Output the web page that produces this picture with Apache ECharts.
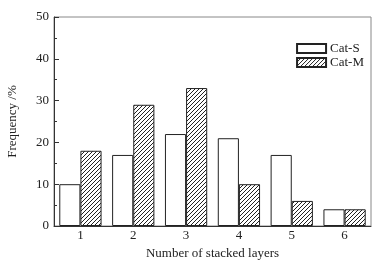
<!DOCTYPE html>
<html>
<head>
<meta charset="utf-8">
<script src="https://cdn.jsdelivr.net/npm/echarts@6/dist/echarts.min.js"></script>
<style>
  html, body { margin: 0; padding: 0; background: #fff; }
  #main { width: 383px; height: 265px; }
</style>
</head>
<body>
<div id="main"></div>
<script>
const categories = ['1', '2', '3', '4', '5', '6'];
const catS = [10, 17, 22, 21, 17, 4];
const catM = [18, 29, 33, 10, 6, 4];

// hatch pattern "////" for Cat-M
function hatch() {
    const c = document.createElement('canvas');
    c.width = 4; c.height = 4;
    const ctx = c.getContext('2d');
    ctx.fillStyle = '#fff';
    ctx.fillRect(0, 0, 4, 4);
    ctx.strokeStyle = '#222';
    ctx.lineWidth = 1;
    ctx.beginPath();
    ctx.moveTo(-1, 5); ctx.lineTo(5, -1);
    ctx.moveTo(-1, 1); ctx.lineTo(1, -1);
    ctx.moveTo(3, 5); ctx.lineTo(5, 3);
    ctx.stroke();
    return c;
}

const font = 'Liberation Serif, Times New Roman, serif';
const chart = echarts.init(document.getElementById('main'), null, { renderer: 'canvas' });
chart.setOption({
    animation: false,
    grid: {
        left: 54, right: 12, top: 17, bottom: 39,
        outerBoundsMode: 'none', containLabel: false,
        show: true, borderColor: '#888', borderWidth: 1
    },
    legend: {
        right: 19, top: 42, orient: 'vertical', icon: 'rect', padding: 0,
        itemWidth: 29, itemHeight: 9, itemGap: 1,
        textStyle: { fontFamily: font, fontSize: 13, color: '#222', padding: [0, 0, 0, -1] },
        data: ['Cat-S', 'Cat-M']
    },
    xAxis: {
        type: 'category',
        data: categories,
        name: 'Number of stacked layers',
        nameLocation: 'center',
        nameGap: 20,
        nameTextStyle: { fontFamily: font, fontSize: 13, color: '#222' },
        axisLine: { lineStyle: { color: '#333' } },
        axisTick: { inside: true, length: 3, lineStyle: { color: '#333' } },
        axisLabel: { fontFamily: font, fontSize: 13, color: '#222', margin: 3 }
    },
    yAxis: {
        type: 'value',
        min: 0, max: 50, interval: 10,
        name: 'Frequency /%',
        nameLocation: 'center',
        nameGap: 35,
        nameTextStyle: { fontFamily: font, fontSize: 13, color: '#222' },
        axisLine: { show: true, lineStyle: { color: '#333' } },
        axisTick: { show: true, inside: true, length: 5, lineStyle: { color: '#333' } },
        minorTick: { show: true, splitNumber: 2, length: 3, lineStyle: { color: '#333' } },
        splitLine: { show: false },
        axisLabel: { fontFamily: font, fontSize: 13, color: '#222', margin: 5 }
    },
    series: [
        {
            name: 'Cat-S', type: 'bar', data: catS,
            barGap: '0%', barCategoryGap: '20%',
            itemStyle: { color: '#fff', borderColor: '#222', borderWidth: 1 }
        },
        {
            name: 'Cat-M', type: 'bar', data: catM,
            itemStyle: { color: { image: hatch(), repeat: 'repeat' }, borderColor: '#222', borderWidth: 1 }
        }
    ]
});
</script>
</body>
</html>
